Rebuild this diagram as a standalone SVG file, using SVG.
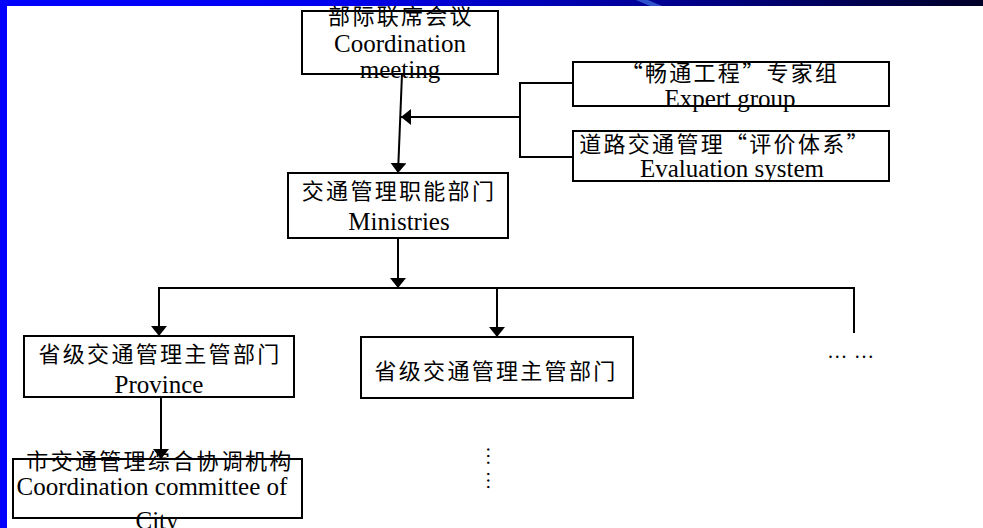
<svg xmlns="http://www.w3.org/2000/svg" width="983" height="528" viewBox="0 0 983 528">
<style>
.box{fill:#fff;stroke:#000;stroke-width:2}
.zh{font-family:"Noto Sans CJK SC","Noto Sans",sans-serif;font-size:22px;letter-spacing:2.3px;fill:#000;text-anchor:middle}
.en{font-family:"Liberation Serif","Times New Roman",serif;font-size:25px;fill:#000;text-anchor:middle}
.ln{fill:none;stroke:#000;stroke-width:2}
.dots{font-family:"Liberation Serif",serif;font-size:20px;fill:#000;letter-spacing:1.7px}
.vdots{font-family:"Liberation Serif",serif;font-size:20px;fill:#000;letter-spacing:1.6px;word-spacing:-2px}
</style>
<defs>
<marker id="ah" markerUnits="userSpaceOnUse" viewBox="0 0 10 16" refX="10" refY="8" markerWidth="10" markerHeight="16" orient="auto">
<path d="M0,0 L10,8 L0,16 z" fill="#000"/>
</marker>
<linearGradient id="band" x1="0" y1="0" x2="1" y2="0">
<stop offset="0" stop-color="#0000ff"/>
<stop offset="0.35" stop-color="#0000ee"/>
<stop offset="0.65" stop-color="#00009a"/>
<stop offset="1" stop-color="#000028"/>
</linearGradient>
</defs>
<rect x="0" y="0" width="983" height="528" fill="#fff"/>

<g id="connectors">
<line class="ln" x1="402" y1="74" x2="398" y2="173" marker-end="url(#ah)"/>
<polyline class="ln" points="573,83 520,83 520,157 573,157"/>
<line class="ln" x1="520" y1="117" x2="401" y2="117" marker-end="url(#ah)"/>
<line class="ln" x1="398" y1="238" x2="398" y2="288" marker-end="url(#ah)"/>
<line class="ln" x1="158" y1="288" x2="855" y2="288"/>
<line class="ln" x1="159" y1="288" x2="159" y2="336" marker-end="url(#ah)"/>
<line class="ln" x1="497" y1="288" x2="497" y2="337" marker-end="url(#ah)"/>
<line class="ln" x1="854" y1="287" x2="854" y2="333"/>
<line class="ln" x1="161" y1="397" x2="161" y2="459" marker-end="url(#ah)"/>
</g>

<g id="node-meeting">
<rect class="box" x="302" y="11" width="196" height="63"/>
<text class="zh" x="401" y="23.5">部际联席会议</text>
<text class="en" x="400" y="52">Coordination</text>
<text class="en" x="400" y="78">meeting</text>
</g>

<g id="node-expert">
<rect class="box" x="573" y="62" width="316" height="44"/>
<text class="zh" x="730" y="81">“畅通工程”专家组</text>
<text class="en" x="730" y="107">Expert group</text>
</g>

<g id="node-evaluation">
<rect class="box" x="573" y="131" width="316" height="50"/>
<text class="zh" x="725" y="151.5">道路交通管理“评价体系”</text>
<text class="en" x="732" y="177">Evaluation system</text>
</g>

<g id="node-ministries">
<rect class="box" x="288" y="173" width="220" height="65"/>
<text class="zh" x="399" y="199">交通管理职能部门</text>
<text class="en" x="399" y="230">Ministries</text>
</g>

<g id="node-province">
<rect class="box" x="24" y="336" width="270" height="61"/>
<text class="zh" x="160" y="362">省级交通管理主管部门</text>
<text class="en" x="159" y="393">Province</text>
</g>

<g id="node-province2">
<rect class="box" x="361" y="337" width="272" height="61"/>
<text class="zh" x="496" y="379">省级交通管理主管部门</text>
</g>

<g id="node-more">
<text class="dots" x="828" y="358">... ...</text>
</g>

<g id="node-city">
<rect class="box" x="13" y="459" width="289" height="59"/>
<text class="zh" x="160" y="469">市交通管理综合协调机构</text>
<text class="en" x="152" y="495">Coordination committee of</text>
<text class="en" x="157" y="529">City</text>
</g>

<g id="node-vdots">
<text class="vdots" transform="translate(487,447) rotate(90)" x="0" y="0">... ...</text>
</g>

<rect x="0" y="0" width="983" height="6" fill="url(#band)"/>
<polygon points="636,0 648,0 662,6 650,6" fill="#3a66d8" opacity="0.8"/>
<rect x="0" y="0" width="7" height="528" fill="#0000ff"/>
</svg>
